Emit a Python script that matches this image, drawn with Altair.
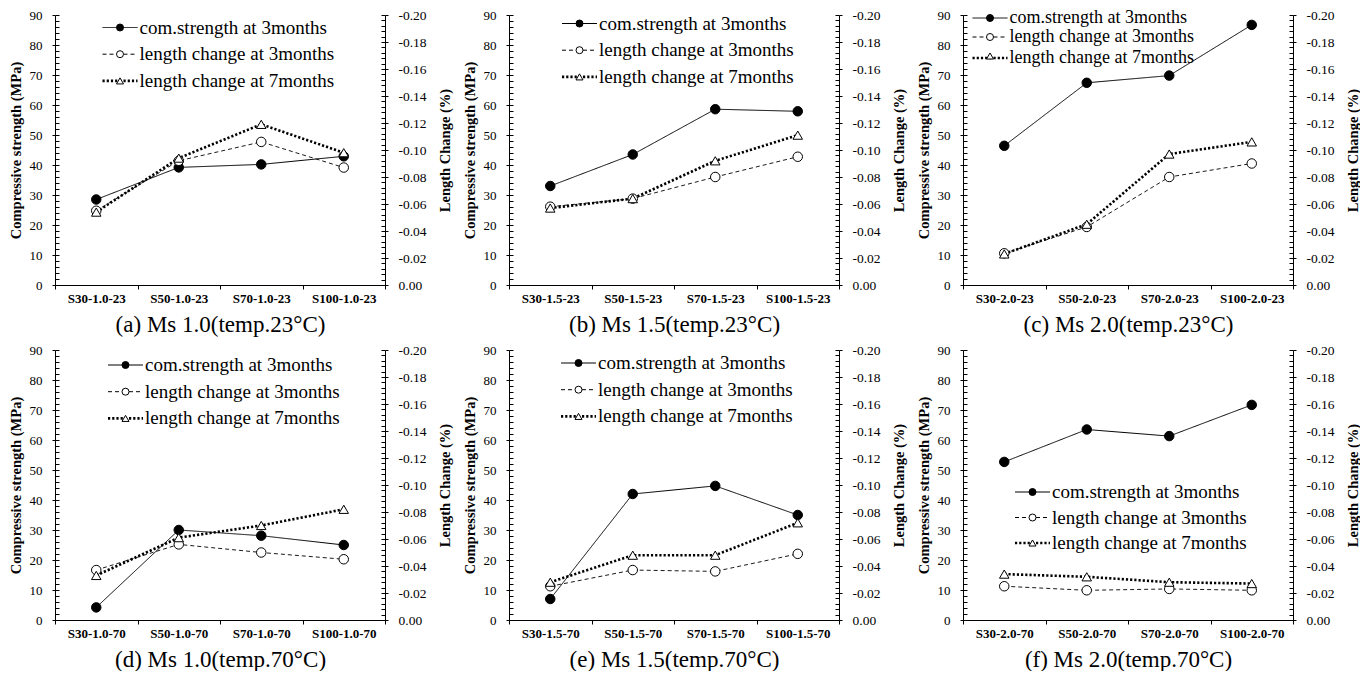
import altair as alt
import pandas as pd

SERIF = "Liberation Serif"
SERIES = ["com.strength at 3months", "length change at 3months", "length change at 7months"]

# ---- data ----
cats_a = ["S30-1.0-23", "S50-1.0-23", "S70-1.0-23", "S100-1.0-23"]
str_a = [28.5, 39.2, 40.2, 42.9]
l3_a = [-0.055, -0.092, -0.106, -0.087]
l7_a = [-0.054, -0.094, -0.119, -0.098]

cats_b = ["S30-1.5-23", "S50-1.5-23", "S70-1.5-23", "S100-1.5-23"]
str_b = [33.0, 43.5, 58.6, 57.9]
l3_b = [-0.058, -0.064, -0.080, -0.095]
l7_b = [-0.057, -0.064, -0.092, -0.111]

cats_c = ["S30-2.0-23", "S50-2.0-23", "S70-2.0-23", "S100-2.0-23"]
str_c = [46.4, 67.4, 69.8, 86.7]
l3_c = [-0.0235, -0.043, -0.080, -0.090]
l7_c = [-0.023, -0.045, -0.097, -0.106]

cats_d = ["S30-1.0-70", "S50-1.0-70", "S70-1.0-70", "S100-1.0-70"]
str_d = [4.2, 30.0, 28.1, 25.0]
l3_d = [-0.037, -0.056, -0.050, -0.045]
l7_d = [-0.033, -0.061, -0.070, -0.082]

cats_e = ["S30-1.5-70", "S50-1.5-70", "S70-1.5-70", "S100-1.5-70"]
str_e = [7.0, 42.0, 44.7, 35.0]
l3_e = [-0.025, -0.037, -0.036, -0.049]
l7_e = [-0.028, -0.048, -0.048, -0.072]

cats_f = ["S30-2.0-70", "S50-2.0-70", "S70-2.0-70", "S100-2.0-70"]
str_f = [52.7, 63.5, 61.3, 71.7]
l3_f = [-0.025, -0.022, -0.023, -0.022]
l7_f = [-0.034, -0.032, -0.028, -0.027]

captions = [
    "(a) Ms 1.0(temp.23°C)", "(b) Ms 1.5(temp.23°C)", "(c) Ms 2.0(temp.23°C)",
    "(d) Ms 1.0(temp.70°C)", "(e) Ms 1.5(temp.70°C)", "(f) Ms 2.0(temp.70°C)",
]

strength_ticks = list(range(0, 91, 10))
strength_minor = list(range(0, 91, 2))
length_ticks = [round(-0.02 * i, 2) for i in range(11)]
length_minor = [round(-0.004 * i, 3) for i in range(51)]

W, H = 330, 270
LINE_PATH = "M-5,0H5"   # legend line symbol (5x the symbol's nominal width)
SYM = 49                # legend symbol size
DOT = [2.2, 2]


def make_panel(cats, strength, len3, len7, caption, lcx, ly, lfs, lrp):
    s_rows = [{"cat": c, "idx": i, "series": SERIES[0], "series_m": SERIES[0], "strength": v}
              for i, (c, v) in enumerate(zip(cats, strength))]
    l3_rows = [{"cat": c, "idx": i, "series": SERIES[1], "series_m": SERIES[1], "length": v}
               for i, (c, v) in enumerate(zip(cats, len3))]
    l7_rows = [{"cat": c, "idx": i, "series_o": SERIES[2], "series_m": SERIES[2], "length": v}
               for i, (c, v) in enumerate(zip(cats, len7))]
    df_s = pd.DataFrame(s_rows)
    df_3 = pd.DataFrame(l3_rows)
    df_7 = pd.DataFrame(l7_rows)
    df_l = pd.concat([df_3, df_7], ignore_index=True)

    x = alt.X(
        "cat:N", sort=cats,
        scale=alt.Scale(type="band", paddingInner=0, paddingOuter=0),
        axis=alt.Axis(
            title=caption, labelAngle=0, labelFontSize=13, labelFontWeight="bold",
            labelPadding=3, tickBand="extent", tickSize=4, titleFontSize=23,
            titleFontWeight="normal", titlePadding=8,
        ),
    )
    s_scale = alt.Scale(domain=[0, 90], nice=False, zero=False)
    l_scale = alt.Scale(domain=[0, -0.2], nice=False, zero=False)

    # symbol centre sits at legendX + fontSize/2; label at legendX + fontSize + labelOffset
    lx = lcx - lfs / 2
    loff = 19.5 - lfs / 2
    row = lfs + 1 + lrp
    legA = alt.Legend(
        orient="none", legendX=lx, legendY=ly, title=None, labelFontSize=lfs,
        labelLimit=400, symbolType=LINE_PATH, symbolSize=SYM, symbolStrokeColor="black",
        symbolStrokeWidth=1, rowPadding=lrp, padding=0, labelOffset=loff,
    )
    legC = alt.Legend(
        orient="none", legendX=lx, legendY=ly + 2 * row, title=None, labelFontSize=lfs,
        labelLimit=400, symbolType=LINE_PATH, symbolSize=SYM, symbolStrokeColor="black",
        symbolStrokeWidth=2.6, symbolDash=DOT, padding=0, labelOffset=loff,
    )
    # marker legend: same row layout as the line legends, symbols only
    legB = alt.Legend(
        orient="none", legendX=lx, legendY=ly, title=None,
        labelFontSize=lfs, labelExpr="''", symbolSize=SYM, symbolStrokeColor="black",
        symbolStrokeWidth=1, rowPadding=lrp, padding=0, labelOffset=loff,
    )
    dash = alt.StrokeDash("series:N", scale=alt.Scale(range=[[1, 0], [4, 3]]), legend=legA)
    shape = alt.Shape("series_m:N", scale=alt.Scale(range=["circle", "circle", "triangle-up"]), legend=legB)
    fill = alt.Fill("series_m:N", scale=alt.Scale(range=["black", "white", "white"]), legend=legB)
    stroke = alt.Stroke("series_m:N", scale=alt.Scale(range=["black", "black", "black"]), legend=legB)
    order = alt.Order("idx:Q")

    s_line = alt.Chart(df_s).mark_line(color="black", strokeWidth=1).encode(
        x=x,
        y=alt.Y("strength:Q", scale=s_scale, axis=alt.Axis(
            orient="left", values=strength_ticks, tickSize=3, labelPadding=10,
            labelFontSize=13, format="d", title="Compressive strength (MPa)",
            titleFontSize=14.5, titleFontWeight="bold", titlePadding=6)),
        strokeDash=dash, order=order,
    )
    l3_line = alt.Chart(df_3).mark_line(color="black", strokeWidth=0.9).encode(
        x=x,
        y=alt.Y("length:Q", scale=l_scale, axis=alt.Axis(
            orient="right", values=length_ticks, tickSize=3, labelPadding=10,
            labelFontSize=13.5, format=".2f", labelExpr="replace(datum.label, '\u2212', '-')",
            title="Length Change (%)", titleAngle=270, titleBaseline="top", titleFontSize=14.5,
            titleFontWeight="bold", titlePadding=12)),
        strokeDash=dash, order=order,
    )
    l7_line = alt.Chart(df_7).mark_line(color="black", strokeWidth=2.6, strokeDash=DOT).encode(
        x=x,
        y=alt.Y("length:Q", scale=l_scale, axis=None),
        opacity=alt.Opacity("series_o:N", scale=alt.Scale(range=[1, 1]), legend=legC),
        order=order,
    )
    s_pts = alt.Chart(df_s).mark_point(filled=False, size=90, strokeWidth=1, opacity=1).encode(
        x=x,
        y=alt.Y("strength:Q", scale=s_scale, axis=alt.Axis(
            orient="right", offset=-W, values=strength_minor, tickSize=4,
            labels=False, domain=False, title=None)),
        shape=shape, fill=fill, stroke=stroke,
    )
    l_pts = alt.Chart(df_l).mark_point(filled=False, size=90, strokeWidth=1, opacity=1).encode(
        x=x,
        y=alt.Y("length:Q", scale=l_scale, axis=alt.Axis(
            orient="left", offset=-W, values=length_minor, tickSize=4,
            labels=False, domain=False, title=None)),
        shape=shape, fill=fill, stroke=stroke,
    )
    return alt.layer(s_line, l3_line, l7_line, s_pts, l_pts).resolve_scale(
        y="independent").properties(width=W, height=H)


panels = [
    make_panel(cats_a, str_a, l3_a, l7_a, captions[0], 65, 3, 19, 6.7),
    make_panel(cats_b, str_b, l3_b, l7_b, captions[1], 70.5, -1, 19, 6.7),
    make_panel(cats_c, str_c, l3_c, l7_c, captions[2], 27, -6, 18, 1),
    make_panel(cats_d, str_d, l3_d, l7_d, captions[3], 70.5, 5.5, 19, 6.7),
    make_panel(cats_e, str_e, l3_e, l7_e, captions[4], 69.5, 3.5, 19, 6.7),
    make_panel(cats_f, str_f, l3_f, l7_f, captions[5], 69.5, 132.5, 19, 5.5),
]

chart = alt.ConcatChart(
    concat=panels, columns=3, spacing={"row": 65, "column": 124}, bounds="flush",
).resolve_scale(
    strokeDash="independent", shape="independent", fill="independent",
    stroke="independent", opacity="independent",
).properties(
    padding={"left": 0, "top": 0, "right": 0, "bottom": 0},
).configure_view(
    stroke=None,
).configure_axis(
    labelFont=SERIF, titleFont=SERIF, labelColor="black", titleColor="black",
    tickColor="black", domainColor="black", grid=False,
).configure_legend(
    labelFont=SERIF, labelColor="black",
)

chart.save("out.html", embed_options={"renderer": "svg", "actions": False})
